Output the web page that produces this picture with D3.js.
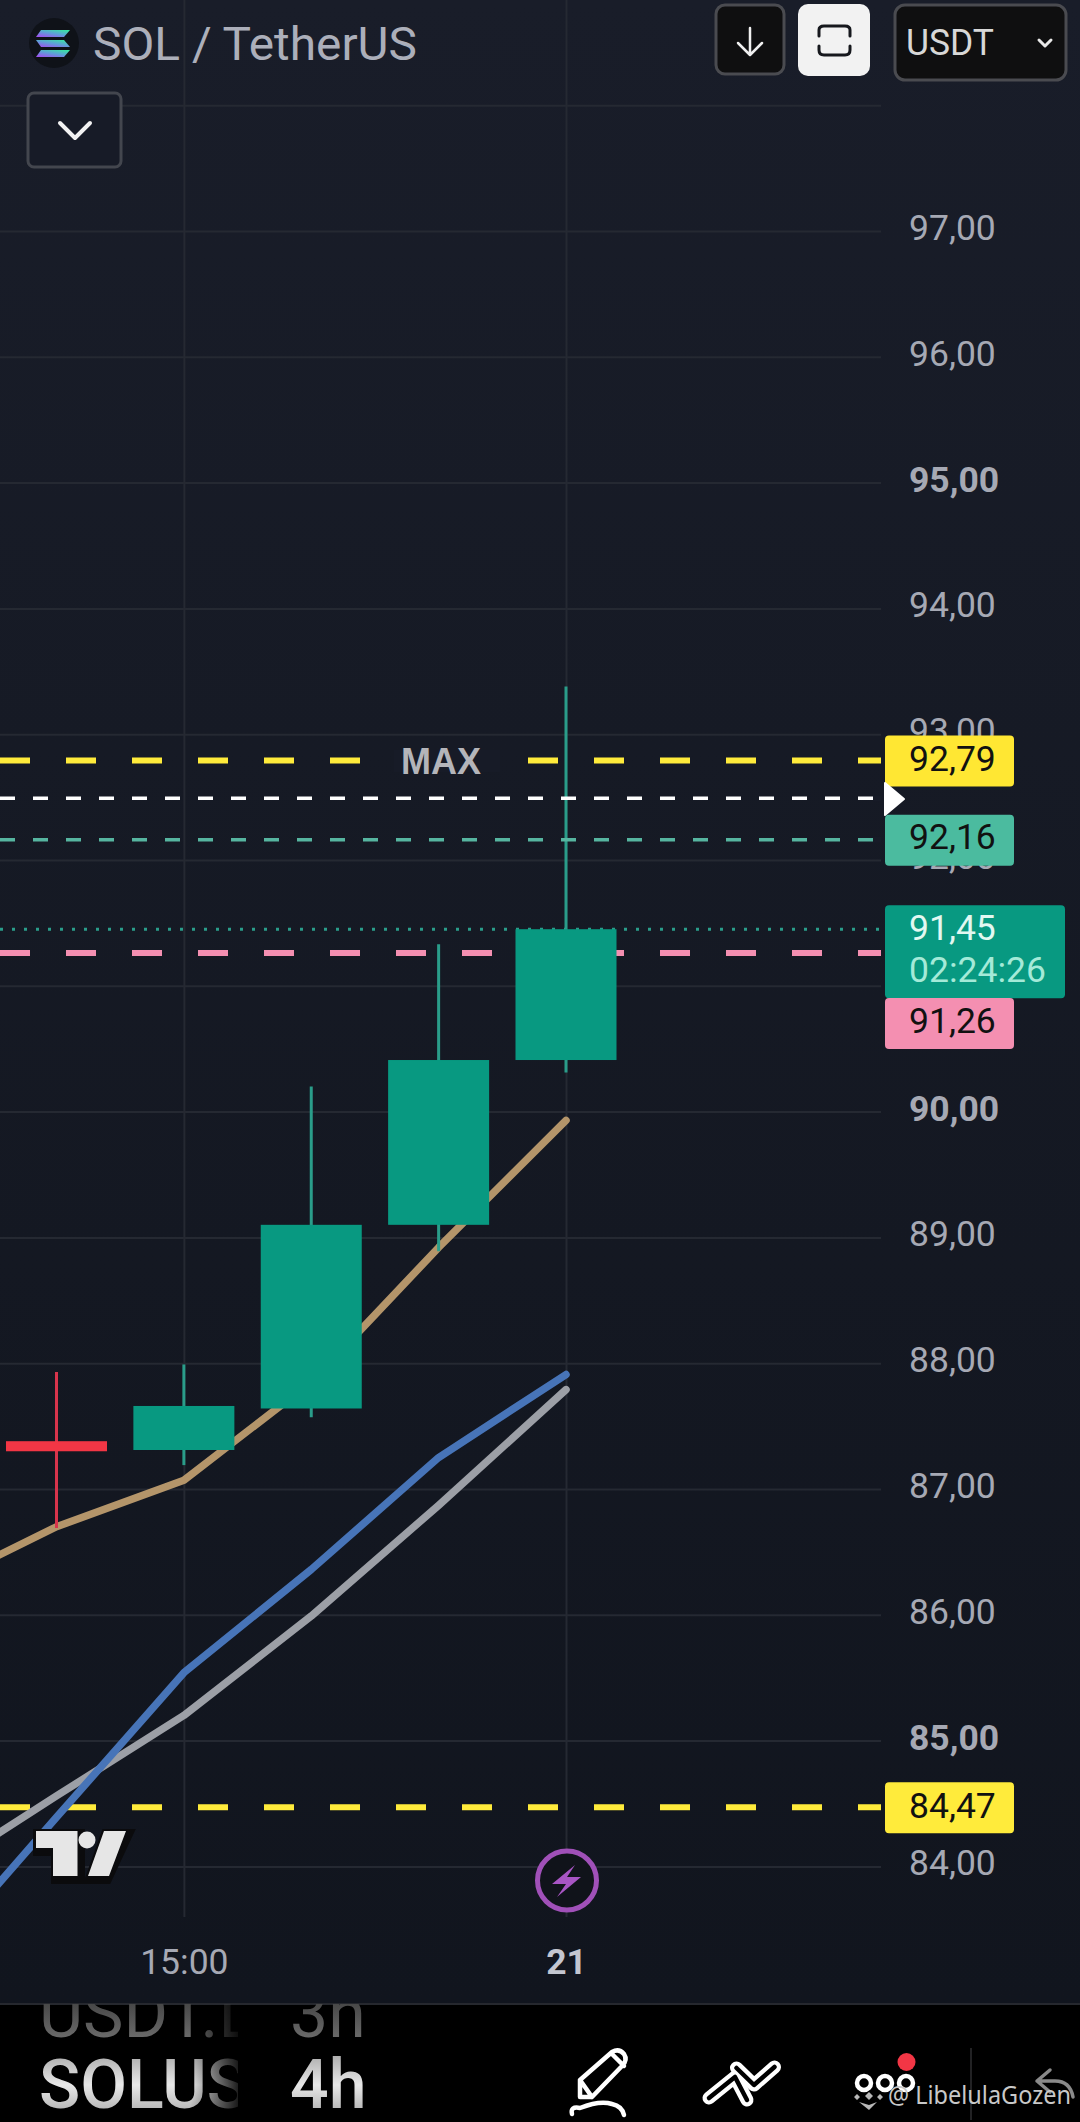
<!DOCTYPE html>
<html>
<head>
<meta charset="utf-8">
<title>SOL / TetherUS</title>
<script src="https://cdn.jsdelivr.net/npm/d3@7"></script>
<style>
html, body { margin: 0; padding: 0; background: #000; }
svg { display: block; font-family: Roboto, sans-serif; }
</style>
</head>
<body>
<div id="graph"></div>
<script>
// candles (4h bars)
var candleIndex = [0, 1, 2, 3, 4];
var candleOpen  = [87.38, 87.31, 87.64, 89.10, 90.41];
var candleClose = [87.30, 87.66, 89.10, 90.41, 91.45];
var candleHigh  = [87.93, 87.99, 90.20, 91.33, 93.38];
var candleLow   = [86.69, 87.19, 87.57, 88.89, 90.31];

// moving averages, first point sits off the left edge
var maIndex = [-1, 0, 1, 2, 3, 4];
var tanLine  = [86.20, 86.70, 87.07, 87.85, 88.92, 89.93];
var blueLine = [83.23, 84.39, 85.54, 86.36, 87.25, 87.91];
var grayLine = [83.91, 84.56, 85.20, 85.99, 86.87, 87.79];

// horizontal levels
var maxLevel = 92.79;
var whiteLevel = 92.49;
var tealLevel = 92.16;
var lastPrice = 91.45;
var pinkLevel = 91.26;
var minLevel = 84.47;

var priceTicks = [84, 85, 86, 87, 88, 89, 90, 91, 92, 93, 94, 95, 96, 97, 98];
var boldPrices = [85, 90, 95];
var timeTicks = [1, 4];
var timeLabels = ["15:00", "21"];
var countdown = "02:24:26";

var width = 1080, height = 2122;
var paneRight = 881, paneBottom = 2003, gridBottom = 1917;

var svg = d3.select("#graph").append("svg").attr("width", width).attr("height", height);
var defs = svg.append("defs");

var bg = defs.append("linearGradient").attr("id", "bg").attr("x1", 0).attr("x2", 0).attr("y1", 0).attr("y2", 1);
bg.append("stop").attr("offset", 0).attr("stop-color", "#191d29");
bg.append("stop").attr("offset", 1).attr("stop-color", "#11151e");

var sol = defs.append("linearGradient").attr("id", "sol").attr("x1", 0.9).attr("x2", 0.1).attr("y1", 0).attr("y2", 1);
sol.append("stop").attr("offset", 0).attr("stop-color", "#35e8a0");
sol.append("stop").attr("offset", 0.5).attr("stop-color", "#5f9fd8");
sol.append("stop").attr("offset", 1).attr("stop-color", "#a04ff0");

var fade1 = defs.append("linearGradient").attr("id", "fadeBig").attr("x1", 0).attr("x2", 0).attr("y1", 0).attr("y2", 1);
fade1.append("stop").attr("offset", 0).attr("stop-color", "#9a9a9a");
fade1.append("stop").attr("offset", 0.5).attr("stop-color", "#e8e8e8");
fade1.append("stop").attr("offset", 1).attr("stop-color", "#9a9a9a");

var fade2 = defs.append("linearGradient").attr("id", "fadeSmall").attr("x1", 0).attr("x2", 0).attr("y1", 0).attr("y2", 1);
fade2.append("stop").attr("offset", 0).attr("stop-color", "#2a2a2a");
fade2.append("stop").attr("offset", 1).attr("stop-color", "#7a7a7a");

var edge = defs.append("linearGradient").attr("id", "edge");
edge.append("stop").attr("offset", 0.8).attr("stop-color", "#fff");
edge.append("stop").attr("offset", 1).attr("stop-color", "#222");
defs.append("mask").attr("id", "symbolFade").attr("maskUnits", "userSpaceOnUse")
    .attr("x", 0).attr("y", 2004).attr("width", 238).attr("height", 118)
    .append("rect").attr("x", 0).attr("y", 2004).attr("width", 238).attr("height", 118).attr("fill", "url(#edge)");
defs.append("clipPath").attr("id", "pane").append("rect")
    .attr("x", 0).attr("y", 0).attr("width", paneRight).attr("height", paneBottom);
defs.append("clipPath").attr("id", "list").append("rect")
    .attr("x", 0).attr("y", 2004).attr("width", 400).attr("height", 118);

svg.append("rect").attr("width", width).attr("height", paneBottom).attr("fill", "url(#bg)");
svg.append("rect").attr("y", paneBottom).attr("width", width).attr("height", height - paneBottom).attr("fill", "#000");
svg.append("rect").attr("y", paneBottom).attr("width", width).attr("height", 2).attr("fill", "#26282e");

// scales
var x = d3.scaleLinear().domain([0, 4]).range([56.5, 566]);
var y = d3.scaleLinear().domain([84, 98]).range([1866.4, 105.2]);
var bodyWidth = 101;

function priceText(v) { return d3.format(".2f")(v).replace(".", ","); }

// axes, their ticks are the chart grid as well
var yAxis = d3.axisRight(y).tickValues(priceTicks).tickSize(paneRight).tickPadding(28)
    .tickFormat(function(d) { return d === 98 ? "" : priceText(d); });
var yG = svg.append("g").call(yAxis);
yG.select(".domain").remove();
yG.selectAll("line").attr("stroke", "#252932").attr("stroke-width", 2);
yG.selectAll("text")
    .attr("fill", "#a6a9b4").attr("font-size", 35.5).attr("font-family", "Roboto, sans-serif")
    .attr("dy", "0.24em")
    .attr("font-weight", function(d) { return boldPrices.indexOf(d) >= 0 ? 700 : 400; });

var xAxis = d3.axisBottom(x).tickValues(timeTicks).tickSize(-gridBottom).tickPadding(32)
    .tickFormat(function(d, i) { return timeLabels[i]; });
var xG = svg.append("g").attr("transform", "translate(0," + gridBottom + ")").call(xAxis);
xG.select(".domain").remove();
xG.selectAll("line").attr("stroke", "#252932").attr("stroke-width", 2);
xG.selectAll("text")
    .attr("fill", function(d, i) { return i === 1 ? "#c3c6d0" : "#a6a9b4"; })
    .attr("font-size", 35.5).attr("font-family", "Roboto, sans-serif")
    .attr("font-weight", function(d, i) { return i === 1 ? 700 : 400; });

var chart = svg.append("g").attr("clip-path", "url(#pane)");

function level(parent, value, color, w, dash) {
    parent.append("line")
        .attr("x1", 0).attr("x2", paneRight)
        .attr("y1", y(value)).attr("y2", y(value))
        .attr("stroke", color).attr("stroke-width", w).attr("stroke-dasharray", dash);
}
level(chart, maxLevel, "#ffeb3b", 6, "30 36");
level(chart, pinkLevel, "#f48fb1", 6, "30 36");
level(chart, minLevel, "#ffeb3b", 6, "30 36");
level(chart, lastPrice, "#2a9d8a", 3, "3 9");

// MAX sits on a patch of background that hides the dashes
chart.append("rect").attr("x", 394).attr("y", 750).attr("width", 106).attr("height", 22).attr("fill", "#171b27");
chart.append("text").attr("x", 441).attr("y", 774).attr("text-anchor", "middle")
    .attr("font-family", "'Liberation Sans', Arial, sans-serif").attr("font-weight", 700)
    .attr("font-size", 36).attr("fill", "#b4b5ba").text("MAX");

var maLine = d3.line().x(function(d, i) { return x(maIndex[i]); }).y(function(d) { return y(d); });
[[grayLine, "#9c9fa6"], [tanLine, "#b4956a"], [blueLine, "#4774b8"]].forEach(function(s) {
    chart.append("path").attr("d", maLine(s[0])).attr("fill", "none")
        .attr("stroke", s[1]).attr("stroke-width", 7.5).attr("stroke-linecap", "round").attr("stroke-linejoin", "round");
});

// candles
var candles = chart.append("g").selectAll("g").data(candleIndex).enter().append("g");
candles.append("line")
    .attr("x1", function(i) { return x(i); }).attr("x2", function(i) { return x(i); })
    .attr("y1", function(i) { return y(candleHigh[i]); })
    .attr("y2", function(i) { return y(candleLow[i]); })
    .attr("stroke-width", 3)
    .attr("stroke", function(i) { return candleClose[i] < candleOpen[i] ? "#d8344c" : "#2a9d8a"; });
candles.append("rect")
    .attr("x", function(i) { return x(i) - bodyWidth / 2; })
    .attr("width", bodyWidth)
    .attr("y", function(i) { return y(Math.max(candleOpen[i], candleClose[i])); })
    .attr("height", function(i) { return Math.abs(y(candleOpen[i]) - y(candleClose[i])); })
    .attr("fill", function(i) { return candleClose[i] < candleOpen[i] ? "#f23645" : "#089981"; });

level(chart, whiteLevel, "#ffffff", 3.5, "15 18");
level(chart, tealLevel, "#56b5a0", 3.5, "15 18");
// the last dash of these two stops short of the axis
chart.append("rect").attr("x", 873).attr("y", y(whiteLevel) - 3).attr("width", 9).attr("height", 6).attr("fill", "#171b27");
chart.append("rect").attr("x", 873).attr("y", y(tealLevel) - 3).attr("width", 9).attr("height", 6).attr("fill", "#171b27");

// TradingView mark
var tv = svg.append("g");
tv.append("path")
    .attr("d", "M36 1831H78V1876H54V1848H36Z M126 1831L105 1876H88L104 1831Z")
    .attr("fill", "#0b0b0d").attr("stroke", "#0b0b0d").attr("stroke-width", 10).attr("transform", "translate(2,3)");
tv.append("path").attr("d", "M36 1831H77.5V1876H53V1848H36Z M126 1831L109 1876H88L104 1831Z").attr("fill", "#e6e6e6");
tv.append("circle").attr("cx", 87).attr("cy", 1840).attr("r", 8.5).attr("fill", "#e6e6e6");

// bolt marker under the last bar
svg.append("circle").attr("cx", x(4) + 1).attr("cy", 1880.5).attr("r", 29.5)
    .attr("fill", "#10131a").attr("stroke", "#a050b8").attr("stroke-width", 5);
svg.append("path").attr("d", "M575 1865L552 1884H566L557 1897L581 1877H567Z").attr("fill", "#a855c4");

// price tags
function tag(top, w, h, fill) {
    svg.append("rect").attr("x", 885).attr("y", top).attr("width", w).attr("height", h).attr("rx", 4).attr("fill", fill);
}
function tagText(cy, txt, fill) {
    svg.append("text").attr("x", 909).attr("y", cy).attr("dy", "0.35em")
        .attr("font-size", 35.5).attr("fill", fill).text(txt);
}
tag(y(maxLevel) - 25, 129, 51, "#ffe733");
tagText(y(maxLevel) - 2, priceText(maxLevel), "#111");
svg.append("path").attr("d", "M885 783L904 799L885 815Z").attr("fill", "#fff").attr("stroke", "#fff").attr("stroke-width", 2).attr("stroke-linejoin", "round");
tag(y(tealLevel) - 25, 129, 51, "#4bbb9f");
tagText(y(tealLevel) - 3, priceText(tealLevel), "#111");
tag(y(lastPrice) - 24, 180, 93, "#089981");
tagText(y(lastPrice) - 2, priceText(lastPrice), "#e2f8f1");
tagText(y(lastPrice) + 40, countdown, "#a4ead8");
tag(998, 129, 51, "#f48fb1");
tagText(1020.5, priceText(pinkLevel), "#111");
tag(y(minLevel) - 25, 129, 51, "#ffeb3b");
tagText(y(minLevel) - 2, priceText(minLevel), "#111");

// header
svg.append("circle").attr("cx", 54).attr("cy", 43).attr("r", 25).attr("fill", "#0f1218");
["M41 30H70L64 37H36Z", "M36 40H64L70 47H41Z", "M41 50H70L64 57H36Z"].forEach(function(d) {
    svg.append("path").attr("d", d).attr("fill", "url(#sol)");
});
svg.append("text").attr("x", 93).attr("y", 60)
    .attr("font-size", 46).attr("fill", "#acafba").attr("textLength", 324).attr("lengthAdjust", "spacingAndGlyphs")
    .text("SOL / TetherUS");

function button(x0, y0, w, h, fill, stroke, r) {
    svg.append("rect").attr("x", x0).attr("y", y0).attr("width", w).attr("height", h).attr("rx", r)
        .attr("fill", fill).attr("stroke", stroke).attr("stroke-width", 3);
}
function stroke(d, color, w) {
    return svg.append("path").attr("d", d).attr("fill", "none").attr("stroke", color)
        .attr("stroke-width", w).attr("stroke-linecap", "round").attr("stroke-linejoin", "round");
}
button(716, 5, 68, 69, "#0f0f10", "#4a4b50", 9);
stroke("M750 28V54M738 43L750 55L762 43", "#f0f0f0", 2.5);
svg.append("rect").attr("x", 798).attr("y", 4).attr("width", 72).attr("height", 72).attr("rx", 10).attr("fill", "#f2f2f2");
stroke("M819 36V30Q819 26 824 26H845Q850 26 850 30V36M819 46V50Q819 55 824 55H845Q850 55 850 50V46", "#16181d", 3);
button(895, 5, 171, 75, "#0f0f10", "#4a4b50", 10);
svg.append("text").attr("x", 906).attr("y", 55).attr("font-size", 37).attr("fill", "#d8d8d8")
    .attr("textLength", 88).attr("lengthAdjust", "spacingAndGlyphs").text("USDT");
stroke("M1039 40L1045 46L1051 40", "#e8e8e8", 3);
button(28, 93, 93, 74, "#171b27", "#43464e", 6);
stroke("M60 123L75 138L90 123", "#f2f2f2", 4);

// bottom bar
var listG = svg.append("g").attr("clip-path", "url(#list)");
listG.append("text").attr("x", 39).attr("y", 2037).attr("font-size", 68).attr("fill", "url(#fadeSmall)")
    .attr("mask", "url(#symbolFade)").text("USDT.L");
listG.append("text").attr("x", 290).attr("y", 2037).attr("font-size", 68).attr("fill", "url(#fadeSmall)").text("3h");
listG.append("text").attr("x", 39).attr("y", 2108).attr("font-size", 68).attr("font-weight", 500)
    .attr("fill", "url(#fadeBig)").attr("mask", "url(#symbolFade)").text("SOLUS");
listG.append("text").attr("x", 290).attr("y", 2108).attr("font-size", 68).attr("font-weight", 500)
    .attr("fill", "url(#fadeBig)").text("4h");

stroke("M580 2097V2080L612 2052Q619 2048 624 2054Q628 2060 622 2066L592 2097Z M580 2080L592 2097M612 2054L624 2066", "#fff", 4.5);
stroke("M572 2114Q570 2106 580 2108Q600 2100 612 2104Q622 2106 624 2115", "#fff", 4.5);
// the two chevrons are outlined: white stroke with a thin black core
["M709 2098L735 2077L747 2100", "M736.5 2068L754 2085L774.5 2067"].forEach(function(d) {
    stroke(d, "#fff", 13);
});
["M709 2098L735 2077L747 2100", "M736.5 2068L754 2085L774.5 2067"].forEach(function(d) {
    stroke(d, "#000", 4.5);
});
[864, 885, 906].forEach(function(cx) {
    svg.append("circle").attr("cx", cx).attr("cy", 2083).attr("r", 7).attr("fill", "none").attr("stroke", "#fff").attr("stroke-width", 4.5);
});
svg.append("circle").attr("cx", 906.5).attr("cy", 2062).attr("r", 9).attr("fill", "#f23645");
svg.append("line").attr("x1", 971).attr("x2", 971).attr("y1", 2048).attr("y2", 2120).attr("stroke", "#2e2e30").attr("stroke-width", 1.5);
stroke("M1050 2070L1037 2081L1050 2092M1037 2081H1055Q1070 2081 1073 2097", "#8a8a8a", 3.5);

// watermark
svg.append("path").attr("d", "M869 2092L873 2096L869 2100L865 2096Z M857 2094L860 2097L857 2100L854 2097Z M880 2094L883 2097L880 2100L877 2097Z M859 2102L869 2110L877 2102L869 2105Z")
    .attr("fill", "#b8b8b8");
svg.append("text").attr("x", 888).attr("y", 2104).attr("font-size", 26)
    .attr("font-family", "'Noto Sans', sans-serif").attr("fill", "#c8c8c8")
    .attr("textLength", 183).attr("lengthAdjust", "spacingAndGlyphs").text("@ LibelulaGozen");
</script>
</body>
</html>
